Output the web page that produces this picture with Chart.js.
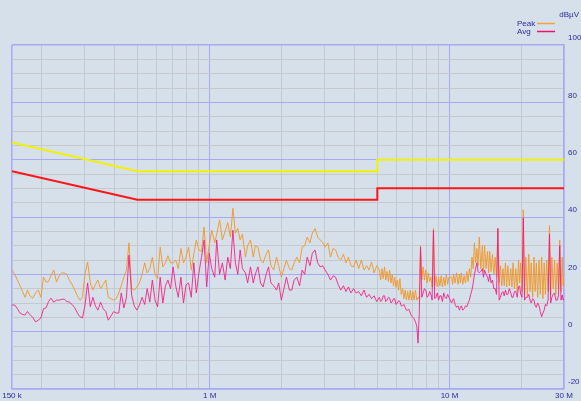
<!DOCTYPE html>
<html>
<head>
<meta charset="utf-8">
<script src="https://cdn.jsdelivr.net/npm/chart.js@4/dist/chart.umd.min.js"></script>
<style>
  html, body { margin: 0; padding: 0; background: #d5e0ea; }
  canvas { display: block; }
</style>
</head>
<body>
<canvas id="emiChart" width="581" height="401"></canvas>
<script>
"use strict";

// frequencies in MHz
const freqMHz = [
  0.150, 0.154, 0.158, 0.162, 0.166, 0.170, 0.174, 0.178,
  0.183, 0.188, 0.193, 0.198, 0.203, 0.208, 0.213, 0.218,
  0.224, 0.230, 0.236, 0.242, 0.248, 0.254, 0.260,
  0.267, 0.274, 0.281, 0.288, 0.295, 0.302, 0.310, 0.318, 0.326, 0.334, 0.342,
  0.351, 0.360, 0.369, 0.378, 0.388, 0.398, 0.408, 0.418, 0.428,
  0.439, 0.450, 0.461, 0.473, 0.485, 0.497,
  0.510, 0.523, 0.536, 0.549, 0.563, 0.577, 0.592, 0.607,
  0.622, 0.638, 0.654, 0.670, 0.687, 0.704, 0.722, 0.740,
  0.759, 0.778, 0.797, 0.817, 0.838, 0.859, 0.880, 0.902,
  0.925, 0.948, 0.972, 0.996,
  1.02, 1.05, 1.07, 1.10, 1.13, 1.16, 1.19, 1.22, 1.25, 1.28,
  1.31, 1.34, 1.37, 1.41, 1.44, 1.48, 1.52, 1.55, 1.59, 1.63,
  1.67, 1.72, 1.76, 1.80, 1.85, 1.90, 1.94, 1.99, 2.04, 2.09,
  2.15, 2.20, 2.25, 2.31, 2.37, 2.43, 2.49, 2.55, 2.62, 2.68,
  2.75, 2.82, 2.89, 2.96, 3.03, 3.11, 3.19, 3.27, 3.35, 3.43,
  3.52, 3.61, 3.70, 3.79, 3.88, 3.98, 4.08, 4.18, 4.29, 4.40,
  4.51, 4.62, 4.73, 4.85, 4.97,
  5.10, 5.16, 5.23, 5.29, 5.36, 5.42, 5.49, 5.56, 5.63, 5.70,
  5.77, 5.84, 5.91, 5.98, 6.06, 6.13, 6.21, 6.29, 6.37, 6.45,
  6.53, 6.61, 6.69, 6.77, 6.86, 6.94, 7.03, 7.12, 7.21, 7.30,
  7.39, 7.48, 7.57, 7.66, 7.76, 7.86, 7.96, 8.06, 8.16, 8.26,
  8.36, 8.46, 8.57, 8.67, 8.78, 8.89, 9.00, 9.11, 9.23, 9.34,
  9.46, 9.58, 9.70, 9.82, 9.94,
  10.2, 10.3, 10.4, 10.55, 10.7, 10.85, 11.0, 11.1, 11.2, 11.35,
  11.5, 11.65, 11.8, 11.95, 12.1, 12.25, 12.4, 12.55, 12.7, 12.85,
  13.0, 13.15, 13.3, 13.5, 13.7, 13.85, 14.0, 14.2, 14.4, 14.55,
  14.7, 14.9, 15.1, 15.3, 15.5, 15.7, 15.9, 16.1, 16.3, 16.5,
  16.7, 16.9, 17.1, 17.3, 17.5, 17.75, 18.0, 18.2, 18.4, 18.65,
  18.9, 19.15, 19.4, 19.6, 19.8, 20.05, 20.3, 20.55, 20.8, 21.1,
  21.4, 21.65, 21.9, 22.2, 22.5, 22.75, 23.0, 23.3, 23.6, 23.9,
  24.2, 24.5, 24.8, 25.1, 25.4, 25.75, 26.1, 26.4, 26.7, 27.05,
  27.4, 27.75, 28.1, 28.45, 28.8, 29.15, 29.5, 29.75, 30.0
];

const peakDb = [
  21.5, 20, 18, 16, 14, 12, 14.5, 12.5,
  11.7, 13.5, 14.5, 12, 19, 17.3, 17.5, 19.5,
  21.5, 17.3, 19.5, 20.5, 20.5, 20, 18,
  16.5, 14.5, 12.5, 11, 12, 20, 24.3, 17, 14.5, 16.5, 18,
  15, 16.5, 18, 12, 11.5, 11, 11.5, 13.5, 16,
  19, 21.5, 31, 15, 14.5, 15.5,
  17, 20, 24, 20.5, 22, 26, 20, 18.5,
  29.5, 22.6, 24, 26.5, 24, 24, 25, 22,
  29, 24, 26, 29.5, 21.5, 27, 32, 28.5,
  28, 36.5, 24, 30,
  35.4, 31, 34, 39, 32, 35, 38, 33, 43, 34.4,
  36, 32, 34, 26, 30, 32, 26, 30, 29.5, 25,
  24, 27, 28.5, 23, 21.5, 26, 23, 19, 22, 25,
  22, 21.5, 24, 26, 24, 29.5, 30, 33, 31, 34.4,
  36, 33, 32, 31, 29.5, 31, 26, 29, 28.5, 26,
  25, 27, 24, 26, 23, 22.6, 25, 22, 25, 21.5,
  23, 21.5, 24.3, 20.5, 23,
  21.5, 18, 22, 18.5, 22.6, 18, 21, 17.5, 21.5, 17,
  20, 16, 19, 15.5, 18, 14.5, 18.5, 13, 15, 11.5,
  14.5, 11, 14, 11, 14.5, 11, 14, 11, 14.5, 11,
  12, 11.5, 30, 18, 22.6, 18, 21.5, 17, 20.5, 17.5,
  19, 15.6, 36, 16, 19.5, 15.6, 19, 16, 19.5, 15.6,
  19, 16, 20, 16.5, 19,
  19, 16.5, 20, 17, 20.5, 16.5, 20, 17, 20.5, 16.5,
  19.5, 17, 21, 17.5, 22, 19, 26, 22, 31, 24,
  29, 23, 33, 22, 30, 21, 30, 22, 28, 20.5,
  28, 21, 27, 20, 26, 19, 36, 17, 23, 16,
  22, 16, 24, 15.6, 23, 16, 22, 15.6, 24, 15,
  22, 14, 25, 17, 24, 14, 42.5, 13, 26, 12.5,
  27, 14, 24, 12, 26, 14, 24, 12, 25, 13,
  26, 11.5, 24, 13, 25, 14, 37, 13, 26, 15,
  25, 13, 24, 15, 32, 14, 26, 16, 20
];

const avgDb = [
  9.3, 9.3, 8, 6.5, 6, 5.8, 7, 6,
  5, 3.4, 4, 4.8, 8, 8.3, 10.5, 11.7,
  10.3, 11, 11, 11.3, 11.3, 10.5, 10.3,
  9.5, 8.3, 6.5, 5.2, 4.8, 9, 17, 8.7, 12, 9, 7.5,
  10.3, 8, 7, 4, 5.5, 7, 6.5, 6.5, 13.5,
  8.3, 12, 26.7, 12.8, 9, 7.5,
  9.3, 12, 9.5, 15, 10.3, 18, 11, 8.7,
  19, 10, 16, 18, 15, 22.6, 16, 12,
  19, 10, 16.3, 17, 12, 24, 13.5, 20.5,
  26, 32, 15.6, 27.4,
  22, 19, 32, 20, 24, 18, 26, 22, 35.4, 24,
  20, 28.5, 22, 20.5, 17, 22.6, 17, 20, 22.6, 17,
  15.6, 20, 22.6, 17, 16, 14.5, 17, 11, 15, 19,
  14.5, 14.5, 18, 19, 16, 21.5, 20, 26, 23, 27.4,
  28.5, 24, 22.6, 23, 21.5, 20, 18, 19.5, 19, 16.5,
  14.5, 16, 14, 15.6, 13.5, 15, 13.5, 14, 12.5, 14.5,
  12, 13, 11.5, 12.5, 10.5,
  12, 10.5, 11, 12.5, 12.5, 10.5, 11, 12, 11.7, 10,
  10.5, 11.5, 11.5, 9.5, 10, 10.8, 10.5, 9, 9, 9.5,
  8.5, 7.5, 7.5, 7.8, 6.5, 5.5, 5, 4.5, 3.4, 2,
  -4, 6.5, 29.5, 12, 13.5, 15, 14.5, 12, 12.5, 14,
  13, 11, 35.4, 11.5, 12, 13.5, 11, 12.5, 12.5, 10.5,
  13.5, 12, 11.5, 13, 12,
  10, 11, 11.5, 9.5, 8.5, 9, 7.5, 8.5, 9, 7.5,
  8, 9, 8.7, 10, 11, 13, 14.5, 17, 20, 22,
  24, 21, 20.5, 21, 22, 19, 21.5, 20, 19, 17.5,
  20, 17, 18, 15, 15, 13, 36, 11, 12, 13.5,
  14, 12.5, 14.5, 13, 13, 15, 13.5, 12, 12, 14,
  14, 12, 15.6, 16, 13, 12, 39.7, 11, 12, 12,
  13, 11, 10, 11.5, 11, 9, 8.5, 10, 9, 7,
  5.2, 6.5, 7.5, 9.5, 9, 11, 34, 10, 12, 13,
  13.5, 11, 11, 12.5, 30, 11, 12.8, 11, 11.5
];

// limit lines
const limitFreq = [0.15, 0.5, 5, 5, 30];
const qpLimit = [66, 56, 56, 60, 60];
const avLimit = [56, 46, 46, 50, 50];

const xTickValues = [0.15, 0.2, 0.3, 0.4, 0.5, 0.6, 0.7, 0.8, 0.9, 1,
  2, 3, 4, 5, 6, 7, 8, 9, 10, 20, 30];
const xTickLabels = ["150 k", "", "", "", "", "", "", "", "", "1 M",
  "", "", "", "", "", "", "", "", "10 M", "", "30 M"];

const bgColor = "#d5e0ea";
const textColor = "#2a2a9c";
const majorGrid = "#a6aaf2";
const minorGrid = "#c6c8cc";
const fontFamily = "'Liberation Sans', Arial, sans-serif";

const toPoints = (xs, ys) => xs.map((x, i) => ({ x: x, y: ys[i] }));

const bgPlugin = {
  id: "bg",
  beforeDraw(chart) {
    const ctx = chart.ctx;
    ctx.save();
    ctx.fillStyle = bgColor;
    ctx.fillRect(0, 0, chart.width, chart.height);
    ctx.restore();
  }
};

// legend + unit text in the top right corner
const legendPlugin = {
  id: "emiLegend",
  afterDraw(chart) {
    const ctx = chart.ctx;
    ctx.save();
    ctx.font = "8px " + fontFamily;
    ctx.fillStyle = textColor;
    ctx.textBaseline = "middle";
    ctx.textAlign = "right";
    ctx.fillText("dBµV", 579, 15);
    ctx.textAlign = "left";
    const items = [
      { text: chart.data.datasets[0].label, color: "#f2a43a", y: 24 },
      { text: chart.data.datasets[1].label, color: "#e8146c", y: 32 }
    ];
    items.forEach((it) => {
      ctx.fillStyle = textColor;
      ctx.fillText(it.text, 517, it.y);
      ctx.strokeStyle = it.color;
      ctx.lineWidth = 1.5;
      ctx.beginPath();
      ctx.moveTo(537, it.y - 0.5);
      ctx.lineTo(555, it.y - 0.5);
      ctx.stroke();
    });
    ctx.restore();
  }
};

const isEdgeX = (v) => v === 0.15 || v === 30;
const isDecade = (v) => v === 1 || v === 10;

new Chart(document.getElementById("emiChart"), {
  type: "line",
  data: {
    datasets: [
      {
        label: "Peak",
        data: toPoints(freqMHz, peakDb),
        borderColor: "rgba(242,150,36,0.9)",
        borderWidth: 1,
        pointRadius: 0,
        tension: 0,
        order: 3
      },
      {
        label: "Avg",
        data: toPoints(freqMHz, avgDb),
        borderColor: "rgba(246,22,128,0.85)",
        borderWidth: 1,
        pointRadius: 0,
        tension: 0,
        order: 2
      },
      {
        label: "QP limit",
        data: toPoints(limitFreq, qpLimit),
        borderColor: "#f2f200",
        borderWidth: 2,
        pointRadius: 0,
        tension: 0,
        order: 1
      },
      {
        label: "AV limit",
        data: toPoints(limitFreq, avLimit),
        borderColor: "#ff1414",
        borderWidth: 2,
        pointRadius: 0,
        tension: 0,
        order: 0
      }
    ]
  },
  options: {
    responsive: false,
    animation: false,
    devicePixelRatio: 1,
    layout: { padding: { left: 12, top: 45, right: 0, bottom: 0 } },
    plugins: {
      legend: { display: false },
      tooltip: { enabled: false }
    },
    scales: {
      x: {
        type: "logarithmic",
        min: 0.15,
        max: 30,
        afterBuildTicks(scale) {
          scale.ticks = xTickValues.map((v) => ({ value: v }));
        },
        afterFit(scale) {
          scale.height = 12;
        },
        border: { display: true, color: majorGrid, width: 1.5 },
        grid: {
          drawTicks: false,
          color: (c) => (isEdgeX(c.tick.value) || isDecade(c.tick.value) ? majorGrid : minorGrid),
          lineWidth: (c) => (isEdgeX(c.tick.value) ? 1.5 : 1)
        },
        ticks: {
          autoSkip: false,
          maxRotation: 0,
          padding: 2,
          color: textColor,
          font: { family: fontFamily, size: 8 },
          callback: (value, index) => xTickLabels[index]
        }
      },
      y: {
        type: "linear",
        position: "right",
        min: -20,
        max: 100,
        afterFit(scale) {
          scale.width = 17;
        },
        border: { display: true, color: majorGrid, width: 1.5 },
        grid: {
          drawTicks: false,
          color: (c) => (c.tick.value % 20 === 0 ? majorGrid : minorGrid),
          lineWidth: (c) => (c.tick.value === 100 || c.tick.value === -20 ? 1.5 : 1)
        },
        ticks: {
          stepSize: 5,
          autoSkip: false,
          padding: 4,
          labelOffset: -7,
          color: textColor,
          font: { family: fontFamily, size: 8 },
          callback: (v) => (v % 20 === 0 ? String(v) : "")
        }
      }
    }
  },
  plugins: [bgPlugin, legendPlugin]
});
</script>
</body>
</html>
